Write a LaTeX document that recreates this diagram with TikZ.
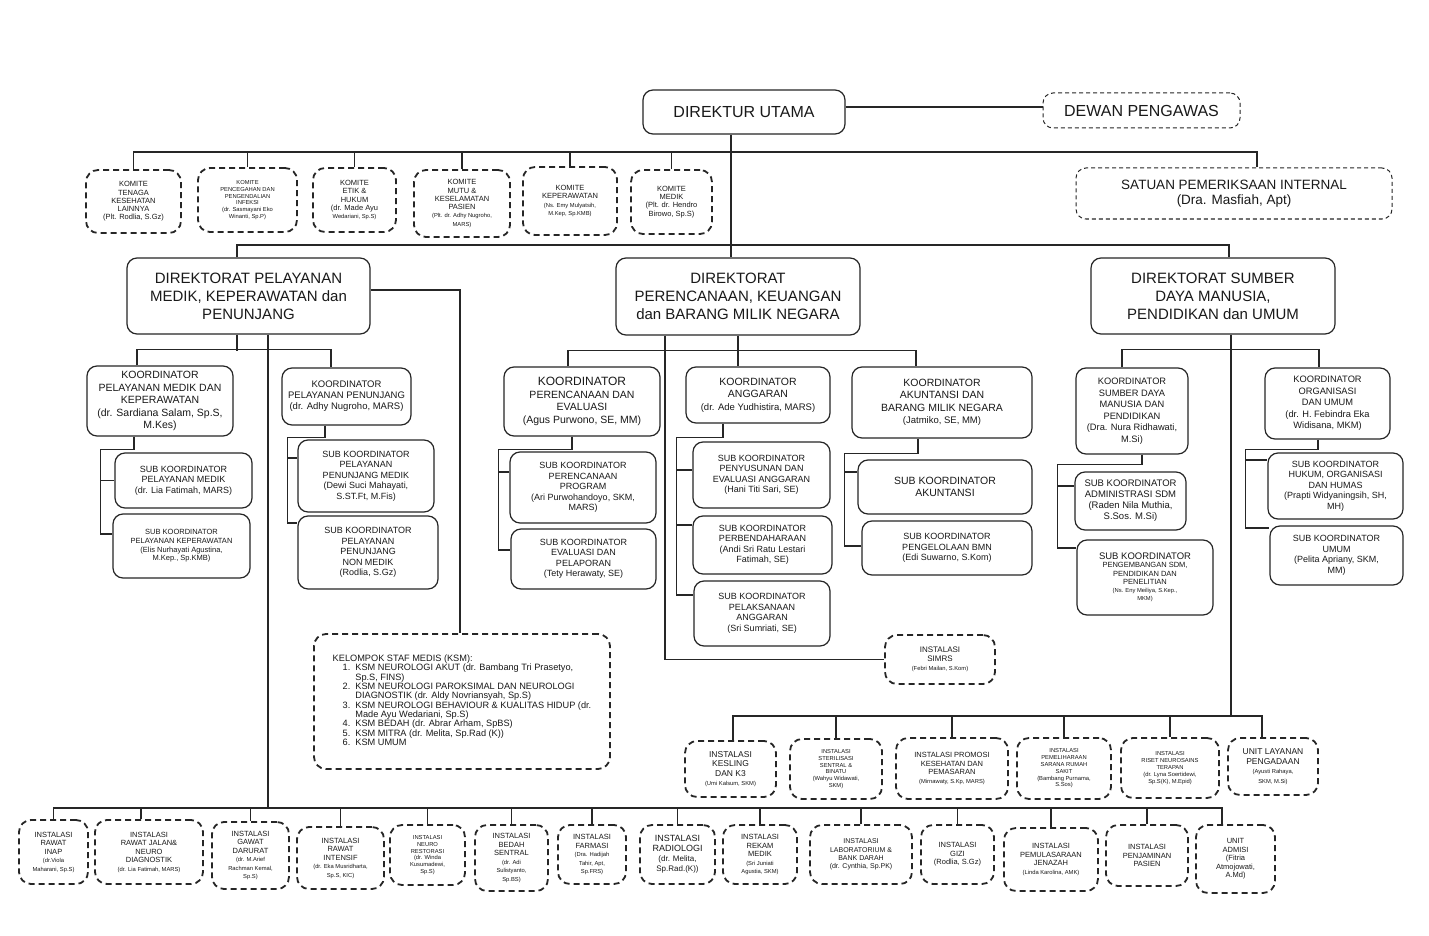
\documentclass[tikz,border=0pt]{standalone}
\usepackage{fontspec}
\setmainfont{Liberation Sans}

\newcommand{\kecil}{\fontsize{5.8}{6.8}\selectfont}
\newcommand{\nama}{\fontsize{9.5}{11}\selectfont}

\tikzset{
  garis/.style={draw=black!85, line width=1.2pt},
  kotak/.style={draw=black!85, line width=1.2pt, rounded corners=10pt, align=center, inner sep=1pt, text=black!90},
  putustipis/.style={kotak, line width=1pt, dash pattern=on 4pt off 3pt},
  putus/.style={kotak, line width=1.8pt, dash pattern=on 6pt off 4pt, rounded corners=12pt},
  uk/.style n args={2}{minimum width=#1pt, minimum height=#2pt},
  fdu/.style={font=\fontsize{16}{19}\selectfont},
  fdir/.style={font=\fontsize{15}{18}\selectfont},
  fspi/.style={font=\fontsize{13.5}{15.5}\selectfont},
  fko/.style={font=\fontsize{10.5}{12.5}\selectfont},
  fsub/.style={font=\fontsize{9}{10.5}\selectfont},
  fkom/.style={font=\fontsize{7.5}{8.3}\selectfont},
  fins/.style={font=\fontsize{7.5}{8.5}\selectfont},
  fmini/.style={font=\fontsize{5.8}{6.8}\selectfont},
  fksm/.style={font=\fontsize{9.2}{9.1}\selectfont}
}

\begin{document}
\begin{tikzpicture}[x=1pt, y=-1pt]
    \path[use as bounding box, fill=white] (0,0) rectangle (1429,936);

    % Direktur utama
    \node[kotak, fdu, uk={202}{44}] (du) at (744,112) {DIREKTUR UTAMA};
    \node[putustipis, fdu, uk={197}{35}] (dp) at (1141.5,110.5) {DEWAN PENGAWAS};

    % Komite
    \node[putus, fkom, uk={95}{63}] (k1) at (133.5,201.5) {KOMITE\\TENAGA\\KESEHATAN\\LAINNYA\\(Plt. Rodlia, S.Gz)};
    \node[putus, fmini, uk={99}{64}] (k2) at (247.5,200) {KOMITE\\PENCEGAHAN DAN\\PENGENDALIAN\\INFEKSI\\(dr. Sasmayani Eko\\Winanti, Sp.P)};
    \node[putus, fkom, uk={83}{64}] (k3) at (354.5,200) {KOMITE\\ETIK \&\\HUKUM\\(dr. Made Ayu\\ \kecil Wedariani, Sp.S)};
    \node[putus, fkom, uk={96}{67}] (k4) at (462,203.5) {KOMITE\\MUTU \&\\KESELAMATAN\\PASIEN\\ \kecil (Plt. dr. Adhy Nugroho,\\ \kecil MARS)};
    \node[putus, fkom, uk={94}{68}] (k5) at (570,201) {KOMITE\\KEPERAWATAN\\ \kecil (Ns. Emy Mulyatsih,\\ \kecil M.Kep, Sp.KMB)};
    \node[putus, fkom, uk={81}{64}] (k6) at (671.5,202) {KOMITE\\MEDIK\\(Plt. dr. Hendro\\Birowo, Sp.S)};
    \node[putustipis, fspi, uk={316}{51}] (spi) at (1234,193.5) {SATUAN PEMERIKSAAN INTERNAL\\(Dra. Masfiah, Apt)};

    % Direktorat
    \node[kotak, fdir, uk={243}{76}] (dir1) at (248.5,296) {DIREKTORAT PELAYANAN\\MEDIK, KEPERAWATAN dan\\PENUNJANG};
    \node[kotak, fdir, uk={244}{77}] (dir2) at (738,296.5) {DIREKTORAT\\PERENCANAAN, KEUANGAN\\dan BARANG MILIK NEGARA};
    \node[kotak, fdir, uk={244}{76}] (dir3) at (1213,296) {DIREKTORAT SUMBER\\DAYA MANUSIA,\\PENDIDIKAN dan UMUM};

    % Direktorat pelayanan
    \node[kotak, fko, uk={146}{70}] (pk1) at (160,401) {KOORDINATOR\\PELAYANAN MEDIK DAN\\KEPERAWATAN\\(dr. Sardiana Salam, Sp.S,\\M.Kes)};
    \node[kotak, font=\nama, uk={129}{57}] (pk2) at (346.5,396.5) {KOORDINATOR\\PELAYANAN PENUNJANG\\(dr. Adhy Nugroho, MARS)};
    \node[kotak, fsub, uk={137}{55}] (sub1) at (183.5,480.5) {SUB KOORDINATOR\\PELAYANAN MEDIK\\(dr. Lia Fatimah, MARS)};
    \node[kotak, font=\fontsize{7.5}{8.6}\selectfont, uk={137}{64}] (sub2) at (181.5,546) {SUB KOORDINATOR\\PELAYANAN KEPERAWATAN\\(Elis Nurhayati Agustina,\\M.Kep., Sp.KMB)};
    \node[kotak, fsub, uk={136}{72}] (sub3) at (366,476) {SUB KOORDINATOR\\PELAYANAN\\PENUNJANG MEDIK\\(Dewi Suci Mahayati,\\S.ST.Ft, M.Fis)};
    \node[kotak, fsub, uk={140}{73}] (sub4) at (368,552.5) {SUB KOORDINATOR\\PELAYANAN\\PENUNJANG\\NON MEDIK\\(Rodlia, S.Gz)};
    \node[putus, fksm, uk={296}{135}] (ksm) at (462,701.5) {\begin{tabular}{@{}l@{\hspace{5pt}}l@{}}
        \multicolumn{2}{@{}l@{}}{KELOMPOK STAF MEDIS (KSM):}\\
        \hspace{10pt}1. & KSM NEUROLOGI AKUT (dr. Bambang Tri Prasetyo,\\
         & Sp.S, FINS)\\
        \hspace{10pt}2. & KSM NEUROLOGI PAROKSIMAL DAN NEUROLOGI\\
         & DIAGNOSTIK (dr. Aldy Novriansyah, Sp.S)\\
        \hspace{10pt}3. & KSM NEUROLOGI BEHAVIOUR \& KUALITAS HIDUP (dr.\\
         & Made Ayu Wedariani, Sp.S)\\
        \hspace{10pt}4. & KSM BEDAH (dr. Abrar Arham, SpBS)\\
        \hspace{10pt}5. & KSM MITRA (dr. Melita, Sp.Rad (K))\\
        \hspace{10pt}6. & KSM UMUM
    \end{tabular}};

    % Direktorat perencanaan
    \node[kotak, fko, uk={156}{69}] (kpe) at (582,401.5) {\fontsize{12}{13}\selectfont KOORDINATOR\\PERENCANAAN DAN\\EVALUASI\\(Agus Purwono, SE, MM)};
    \node[kotak, fko, uk={144}{56}] (kan) at (758,395) {KOORDINATOR\\ANGGARAN\\ \nama (dr. Ade Yudhistira, MARS)};
    \node[kotak, fko, uk={180}{71}] (kak) at (942,402.5) {KOORDINATOR\\AKUNTANSI DAN\\BARANG MILIK NEGARA\\ \nama (Jatmiko, SE, MM)};
    \node[kotak, fsub, uk={146}{71}] (spp) at (583,487.5) {SUB KOORDINATOR\\PERENCANAAN\\PROGRAM\\(Ari Purwohandoyo, SKM,\\MARS)};
    \node[kotak, fsub, uk={145}{60}] (sep) at (583.5,559) {SUB KOORDINATOR\\EVALUASI DAN\\PELAPORAN\\(Tety Herawaty, SE)};
    \node[kotak, fsub, uk={137}{66}] (spea) at (761.5,475) {SUB KOORDINATOR\\PENYUSUNAN DAN\\EVALUASI ANGGARAN\\(Hani Titi Sari, SE)};
    \node[kotak, fsub, uk={139}{58}] (spb) at (762.5,545) {SUB KOORDINATOR\\PERBENDAHARAAN\\(Andi Sri Ratu Lestari\\Fatimah, SE)};
    \node[kotak, fsub, uk={136}{65}] (spla) at (762,613.5) {SUB KOORDINATOR\\PELAKSANAAN\\ANGGARAN\\(Sri Sumriati, SE)};
    \node[kotak, fko, uk={174}{54}] (sak) at (945,487) {SUB KOORDINATOR\\AKUNTANSI};
    \node[kotak, fsub, uk={170}{54}] (spbmn) at (947,548) {SUB KOORDINATOR\\PENGELOLAAN BMN\\(Edi Suwarno, S.Kom)};
    \node[putus, font=\fontsize{8}{9}\selectfont, uk={110}{49}] (simrs) at (940,659.5) {INSTALASI\\SIMRS\\ \kecil (Febri Mailan, S.Kom)};

    % Direktorat SDM
    \node[kotak, font=\fontsize{9.3}{11.5}\selectfont, uk={112}{86}] (ksdm) at (1132,411) {KOORDINATOR\\SUMBER DAYA\\MANUSIA DAN\\PENDIDIKAN\\(Dra. Nura Ridhawati,\\M.Si)};
    \node[kotak, font=\fontsize{9.3}{11.5}\selectfont, uk={125}{71}] (kou) at (1327.5,403.5) {KOORDINATOR\\ORGANISASI\\DAN UMUM\\(dr. H. Febindra Eka\\Widisana, MKM)};
    \node[kotak, font=\nama, uk={111}{58}] (sas) at (1130.5,501) {SUB KOORDINATOR\\ADMINISTRASI SDM\\(Raden Nila Muthia,\\S.Sos. M.Si)};
    \node[kotak, font=\fontsize{7.5}{8.2}\selectfont, uk={136}{75}] (spsdm) at (1145,577.5) {\nama SUB KOORDINATOR\\PENGEMBANGAN SDM,\\PENDIDIKAN DAN\\PENELITIAN\\ \kecil (Ns. Eny Meiliya, S.Kep.,\\ \kecil MKM)};
    \node[kotak, fsub, uk={135}{66}] (shoh) at (1335.5,486) {SUB KOORDINATOR\\HUKUM, ORGANISASI\\DAN HUMAS\\(Prapti Widyaningsih, SH,\\MH)};
    \node[kotak, fsub, uk={133}{59}] (su) at (1336.5,555.5) {SUB KOORDINATOR\\UMUM\\(Pelita Apriany, SKM,\\MM)};

    % Instalasi tengah
    \node[putus, font=\fontsize{8.5}{9.5}\selectfont, uk={91}{56}] (m1) at (730.5,769) {INSTALASI\\KESLING\\DAN K3\\ \kecil (Umi Kalsum, SKM)};
    \node[putus, fmini, uk={92}{60}] (m2) at (836,769) {INSTALASI\\STERILISASI\\SENTRAL \&\\BINATU\\(Wahyu Widawati,\\SKM)};
    \node[putus, fins, uk={112}{61}] (m3) at (952,768.5) {INSTALASI PROMOSI\\KESEHATAN DAN\\PEMASARAN\\ \kecil (Mirnawaty, S.Kp, MARS)};
    \node[putus, fmini, uk={94}{61}] (m4) at (1064,768.5) {INSTALASI\\PEMELIHARAAN\\SARANA RUMAH\\SAKIT\\(Bambang Purnama,\\S.Sos)};
    \node[putus, fmini, uk={98}{60}] (m5) at (1170,768) {INSTALASI\\RISET NEUROSAINS\\TERAPAN\\(dr. Lyna Soertidewi,\\Sp.S(K), M.Epid)};
    \node[putus, font=\fontsize{8.5}{9.5}\selectfont, uk={90}{57}] (m6) at (1273,766.5) {UNIT LAYANAN\\PENGADAAN\\ \kecil (Ayusti Rahaya,\\ \kecil SKM, M.Si)};

    % Instalasi bawah
    \node[putus, fins, uk={69}{64}] (b1) at (53.5,852) {INSTALASI\\RAWAT\\INAP\\ \kecil (dr.Viola\\ \kecil Maharani, Sp.S)};
    \node[putus, fins, uk={108}{64}] (b2) at (149,852) {INSTALASI\\RAWAT JALAN\&\\NEURO\\DIAGNOSTIK\\ \kecil (dr. Lia Fatimah, MARS)};
    \node[putus, fins, uk={77}{67}] (b3) at (250.5,855.5) {INSTALASI\\GAWAT\\DARURAT\\ \kecil (dr. M.Arief\\ \kecil Rachman Kemal,\\ \kecil Sp.S)};
    \node[putus, fins, uk={87}{62}] (b4) at (340.5,858) {INSTALASI\\RAWAT\\INTENSIF\\ \kecil (dr. Eka Musridharta,\\ \kecil Sp.S, KIC)};
    \node[putus, fmini, uk={75}{60}] (b5) at (427.5,855) {INSTALASI\\NEURO\\RESTORASI\\(dr. Winda\\Kusumadewi,\\Sp.S)};
    \node[putus, fins, uk={73}{66}] (b6) at (511.5,858) {INSTALASI\\BEDAH\\SENTRAL\\ \kecil (dr. Adi\\ \kecil Sulistyanto,\\ \kecil Sp.BS)};
    \node[putus, fins, uk={68}{59}] (b7) at (592,854.5) {INSTALASI\\FARMASI\\ \kecil (Dra. Hadijah\\ \kecil Tahir, Apt,\\ \kecil Sp.FRS)};
    \node[putus, font=\fontsize{9}{10}\selectfont, uk={75}{59}] (b8) at (677.5,854.5) {INSTALASI\\RADIOLOGI\\ \fontsize{8}{9}\selectfont (dr. Melita,\\ \fontsize{8}{9}\selectfont Sp.Rad.(K))};
    \node[putus, fins, uk={74}{59}] (b9) at (760,854.5) {INSTALASI\\REKAM\\MEDIK\\ \kecil (Sri Juniati\\ \kecil Agustia, SKM)};
    \node[putus, font=\fontsize{7}{8.3}\selectfont, uk={102}{59}] (b10) at (861,854.5) {INSTALASI\\LABORATORIUM \&\\BANK DARAH\\(dr. Cynthia, Sp.PK)};
    \node[putus, fins, uk={73}{59}] (b11) at (957.5,854.5) {INSTALASI\\GIZI\\(Rodlia, S.Gz)};
    \node[putus, fins, uk={94}{63}] (b12) at (1051,859.5) {INSTALASI\\PEMULASARAAN\\JENAZAH\\ \kecil (Linda Karolina, AMK)};
    \node[putus, fins, uk={82}{61}] (b13) at (1147,855.5) {INSTALASI\\PENJAMINAN\\PASIEN};
    \node[putus, fins, uk={79}{68}] (b14) at (1235.5,859) {UNIT\\ADMISI\\(Fitria\\Atmojowati,\\A.Md)};

    % garis-garis bus
    \coordinate (kbus) at (0,152);
    \coordinate (dbus) at (0,245);
    \coordinate (mbus) at (0,716);
    \coordinate (bbus) at (0,808);

    % garis atas
    \draw[garis] ([yshift=5pt]du.east) -- ([yshift=5pt]du.east -| dp.west);
    \draw[garis] ([xshift=-13pt]du.south) -- ([xshift=-7pt]dir2.north);
    \draw[garis] (k1.north) |- ([xshift=23pt]spi.north |- kbus) -- ([xshift=23pt]spi.north);
    \foreach \k in {k2,k3,k4,k5,k6}
        \draw[garis] (\k.north) -- (\k.north |- kbus);
    \draw[garis] ([xshift=-11.5pt]dir1.north) |- ([xshift=16pt]dir3.north |- dbus) -- ([xshift=16pt]dir3.north);

    % pelayanan
    \draw[garis] ([xshift=-11.5pt]dir1.south) -- ++(0,16);
    \draw[garis] ([xshift=-23pt]pk1.north) -- ++(0,-16) -| ([xshift=-15.5pt]pk2.north);
    \draw[garis] ([xshift=19.5pt]dir1.south) -- ([xshift=19.5pt]dir1.south |- bbus);
    \draw[garis] ([yshift=6pt]dir1.east) -| ([xshift=-2pt]ksm.north);
    \draw[garis] ([xshift=-26pt]pk1.south) -- ++(0,13) -| ([xshift=-12pt,yshift=12pt]sub2.west) -- ([yshift=12pt]sub2.west);
    \draw[garis] ([xshift=-14pt]sub1.west) -- (sub1.west);
    \draw[garis] ([xshift=-21.5pt]pk2.south) -- ++(0,12) -| ([xshift=-10pt,yshift=29.5pt]sub4.west) -- ([yshift=29.5pt]sub4.west);
    \draw[garis] ([xshift=-10pt,yshift=18pt]sub3.west) -- ([yshift=18pt]sub3.west);

    % perencanaan
    \draw[garis] (dir2.south) -- ([xshift=-20pt]kan.north);
    \draw[garis] ([xshift=-14pt]kpe.north) -- ++(0,-16) -| ([xshift=-26pt]kak.north);
    \draw[garis] ([xshift=-73pt]dir2.south) |- (simrs.west);
    \draw[garis] ([xshift=-10pt]kpe.south) -- ++(0,13) -| ([xshift=-12pt,yshift=9pt]sep.west) -- ([yshift=9pt]sep.west);
    \draw[garis] ([xshift=-11pt,yshift=15.5pt]spp.west) -- ([yshift=15.5pt]spp.west);
    \draw[garis] ([xshift=-35pt]kan.south) -- ++(0,14) -| ([xshift=-17pt,yshift=18.5pt]spla.west) -- ([yshift=18.5pt]spla.west);
    \draw[garis] ([xshift=-16pt,yshift=5pt]spea.west) -- ([yshift=5pt]spea.west);
    \draw[garis] ([xshift=-16pt,yshift=20pt]spb.west) -- ([yshift=20pt]spb.west);
    \draw[garis] ([xshift=-24pt]kak.south) -- ++(0,15) -| ([xshift=-17pt,yshift=2pt]spbmn.west) -- ([yshift=2pt]spbmn.west);
    \draw[garis] ([xshift=-13pt,yshift=15pt]sak.west) -- ([yshift=15pt]sak.west);

    % SDM
    \draw[garis] ([xshift=18pt]dir3.south) -- ([xshift=18pt]dir3.south |- mbus);
    \draw[garis] ([xshift=-10pt]ksdm.north) -- ++(0,-18) -| ([xshift=-8.5pt]kou.north);
    \draw[garis] ([xshift=10pt]ksdm.south) -- ++(0,10) -| ([xshift=-19pt,yshift=29.5pt]spsdm.west) -- ([yshift=29.5pt]spsdm.west);
    \draw[garis] ([xshift=-17pt,yshift=15pt]sas.west) -- ([yshift=15pt]sas.west);
    \draw[garis] ([xshift=-9.5pt]kou.south) -- ++(0,10) -| ([xshift=-24pt,yshift=27.5pt]su.west) -- ([yshift=27.5pt]su.west);
    \draw[garis] ([xshift=-22pt,yshift=26pt]shoh.west) -- ([yshift=26pt]shoh.west);

    % instalasi tengah
    \draw[garis] ([xshift=2.5pt]m1.north) |- ([xshift=-11pt]m6.north |- mbus) -- ([xshift=-11pt]m6.north);
    \foreach \m in {m2,m3,m4,m5}
        \draw[garis] (\m.north) -- (\m.north |- mbus);

    % instalasi bawah
    \draw[garis] (b1.north) |- ([xshift=-13.5pt]b14.north |- bbus) -- ([xshift=-13.5pt]b14.north);
    \draw[garis] ([xshift=-8pt]b2.north) -- ([xshift=-8pt]b2.north |- bbus);
    \foreach \b in {b3,b4,b5,b6,b7,b8,b9,b10,b11,b12,b13}
        \draw[garis] (\b.north) -- (\b.north |- bbus);
\end{tikzpicture}
\end{document}
